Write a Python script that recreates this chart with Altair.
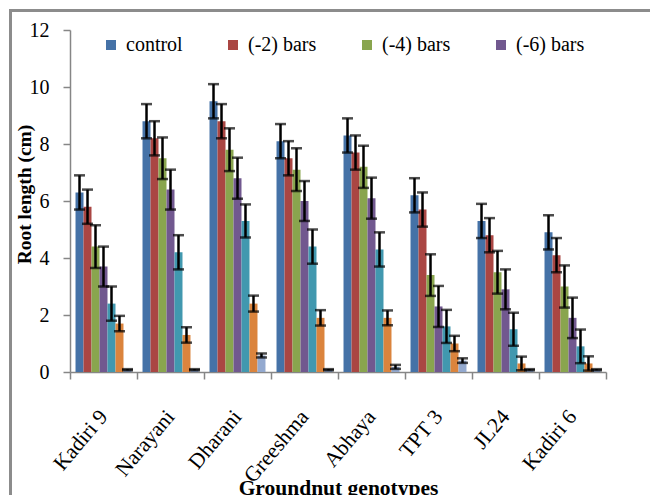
import altair as alt
import pandas as pd

genotypes = ["Kadiri 9", "Narayani", "Dharani", "Greeshma", "Abhaya", "TPT 3", "JL24", "Kadiri 6"]
series = ["control", "(-2) bars", "(-4) bars", "(-6) bars", "(-8) bars", "(-10) bars", "(-12) bars"]
colors = ["#4572A7", "#AA4643", "#89A54E", "#71588F", "#4198AF", "#DB843D", "#93A9CF"]

control = [6.3, 8.8, 9.5, 8.1, 8.3, 6.2, 5.3, 4.9]
m2 = [5.8, 8.2, 8.8, 7.5, 7.7, 5.7, 4.8, 4.1]
m4 = [4.4, 7.5, 7.8, 7.1, 7.2, 3.4, 3.5, 3.0]
m6 = [3.7, 6.4, 6.8, 6.0, 6.1, 2.3, 2.9, 1.9]
m8 = [2.4, 4.2, 5.3, 4.4, 4.3, 1.6, 1.5, 0.9]
m10 = [1.7, 1.3, 2.4, 1.9, 1.9, 1.0, 0.3, 0.3]
m12 = [0.08, 0.08, 0.58, 0.08, 0.18, 0.4, 0.08, 0.08]

e_control = [0.6, 0.6, 0.6, 0.6, 0.6, 0.6, 0.6, 0.6]
e_m2 = [0.6, 0.6, 0.6, 0.6, 0.6, 0.6, 0.6, 0.6]
e_m4 = [0.75, 0.73, 0.75, 0.75, 0.74, 0.73, 0.75, 0.74]
e_m6 = [0.7, 0.7, 0.72, 0.7, 0.72, 0.72, 0.7, 0.71]
e_m8 = [0.6, 0.6, 0.58, 0.6, 0.6, 0.58, 0.58, 0.59]
e_m10 = [0.27, 0.27, 0.28, 0.27, 0.26, 0.27, 0.24, 0.25]
e_m12 = [0.02, 0.02, 0.07, 0.02, 0.07, 0.08, 0.02, 0.02]

y_ticks = [0, 2, 4, 6, 8, 10, 12]

vals = [control, m2, m4, m6, m8, m10, m12]
errs = [e_control, e_m2, e_m4, e_m6, e_m8, e_m10, e_m12]

rows = []
for s, v, e in zip(series, vals, errs):
    for g, vv, ee in zip(genotypes, v, e):
        rows.append({"genotype": g, "series": s, "value": vv, "lo": vv - ee, "hi": vv + ee})
df = pd.DataFrame(rows)

FONT = "Liberation Serif, Times New Roman, serif"

x_enc = alt.X(
    "genotype:N",
    sort=genotypes,
    scale=alt.Scale(paddingInner=0, paddingOuter=0),
    axis=alt.Axis(
        title="Groundnut genotypes",
        labelAngle=-50,
        labelAlign="right",
        labelBaseline="middle",
        labelPadding=34,
        labelFontSize=21.5,
        tickBand="extent",
        titleX=268,
        titleY=116,
        titleBaseline="middle",
        titleAlign="center",
        titleFontSize=21.5,
    ),
)
xo_enc = alt.XOffset("series:N", sort=series, scale=alt.Scale(paddingInner=0, paddingOuter=0.69))
y_scale = alt.Scale(domain=[0, 12], nice=False)

bars = alt.Chart(df).mark_bar().encode(
    x=x_enc,
    xOffset=xo_enc,
    y=alt.Y(
        "value:Q",
        scale=y_scale,
        axis=alt.Axis(
            values=y_ticks,
            format="d",
            title="Root length (cm)",
            titleX=-46,
            titleY=164,
            titleAlign="center",
            titleBaseline="middle",
            titleFontSize=19.5,
        ),
    ),
    color=alt.Color(
        "series:N",
        sort=series,
        scale=alt.Scale(domain=series, range=colors),
        legend=alt.Legend(
            values=series[:4],
            orient="none",
            legendX=31,
            legendY=5,
            direction="horizontal",
            title=None,
            symbolType="square",
            symbolSize=100,
            symbolStrokeWidth=0,
            labelFont=FONT,
            labelFontSize=20,
            labelColor="black",
            labelOffset=5,
            columnPadding=40,
        ),
    ),
)

err_line = alt.Chart(df).mark_rule(color="black", strokeWidth=2.5).encode(
    x=alt.X("genotype:N", sort=genotypes),
    xOffset=alt.XOffset("series:N", sort=series),
    y=alt.Y("lo:Q", scale=y_scale),
    y2="hi:Q",
)
cap_lo = alt.Chart(df).mark_tick(color="black", thickness=2.5, size=11, orient="horizontal").encode(
    x=alt.X("genotype:N", sort=genotypes),
    xOffset=alt.XOffset("series:N", sort=series),
    y=alt.Y("lo:Q", scale=y_scale),
)
cap_hi = alt.Chart(df).mark_tick(color="black", thickness=2.5, size=11, orient="horizontal").encode(
    x=alt.X("genotype:N", sort=genotypes),
    xOffset=alt.XOffset("series:N", sort=series),
    y=alt.Y("hi:Q", scale=y_scale),
)

frame_df = pd.DataFrame({"k": [0]})
frame_left = alt.Chart(frame_df).mark_rule(color="#8c8c8c", strokeWidth=3).encode(
    x=alt.value(-59.5), y=alt.value(-19.5), y2=alt.value(470)
)
frame_top = alt.Chart(frame_df).mark_rule(color="#8c8c8c", strokeWidth=3).encode(
    x=alt.value(-61), x2=alt.value(590), y=alt.value(-19.5)
)

chart = (
    alt.layer(bars, err_line, cap_lo, cap_hi, frame_left, frame_top)
    .properties(
        width=536,
        height=342,
        autosize=alt.AutoSizeParams(type="none"),
        padding={"left": 70, "top": 30, "right": 44, "bottom": 123},
        background="white",
    )
    .configure_view(strokeWidth=0)
    .configure_axis(
        grid=False,
        domainColor="#868686",
        domainWidth=1.5,
        tickColor="#868686",
        tickWidth=1.5,
        tickSize=7,
        labelFont=FONT,
        labelFontSize=20,
        labelColor="black",
        titleFont=FONT,
        titleFontSize=20,
        titleFontWeight="bold",
        titleColor="black",
    )
    .configure_axisY(labelPadding=14)
)

chart.save("out.html", embed_options={"renderer": "svg", "actions": False})
